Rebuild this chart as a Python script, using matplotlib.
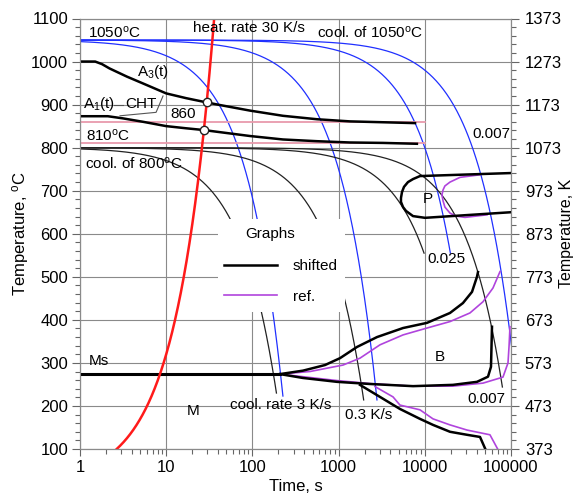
import numpy as np
import matplotlib
matplotlib.use('Agg')
import matplotlib.pyplot as plt
from matplotlib.lines import Line2D
from matplotlib.patches import Rectangle
from matplotlib.ticker import FixedLocator, NullFormatter

plt.rcParams['font.family'] = ['Liberation Sans', 'DejaVu Sans']
plt.rcParams['mathtext.fontset'] = 'custom'
plt.rcParams['mathtext.rm'] = 'Liberation Sans'
plt.rcParams['mathtext.it'] = 'Liberation Sans:italic'
plt.rcParams['font.size'] = 11

# --- values ---
# cooling curves at constant rate, T = T0 - rate * t, drawn down to an end temperature
cool_1050_T0 = 1050
cool_1050_rate = [3.66, 0.3, 0.025, 0.007]
cool_1050_end = [223, 214, 555, 340]
cool_800_T0 = 800
cool_800_rate = [3, 0.3, 0.025, 0.007]
cool_800_end = [230, 214, 555, 244]

# heating 30 K/s from room temperature
heat_T0 = 20
heat_rate = 30

# A3(t), A1(t)
a3_t = [1, 1.5, 1.8, 2.2, 3.5, 5.4, 10, 17, 28, 42, 94, 226, 561, 1355, 3275, 7700]
a3_T = [1000, 1000, 994, 984, 965, 949, 926, 915, 906, 899, 886, 874, 866, 861, 859, 857]
a1_t = [1, 2.1, 3.15, 5.4, 10, 17, 27, 42, 94, 226, 561, 1355, 3275, 8100]
a1_T = [873, 873, 868, 860, 850, 845, 841, 836, 827, 819, 815, 812, 811, 809]

# CHT temperatures
cht_T = [860, 810]
cht_t_end = 10000

# Ms
ms_T = 274
ms_t_end = 209

# pearlite region
p_shift_t = [1e5, 8790, 7300, 6380, 5740, 5440, 5290, 5290, 5590, 6050, 7300, 10050, 1e5]
p_shift_T = [741, 734, 727, 720, 709, 697, 683, 674, 662, 653, 641, 637, 650]
p_ref_t = [43700, 33400, 25600, 19600, 17100, 16300, 15800, 16300, 17100, 19600, 23000, 29300, 52700]
p_ref_T = [737, 734, 731, 720, 711, 702, 690, 676, 662, 648, 641, 638, 644]

# bainite start
bs_shift_t = [209, 386, 695, 1038, 1634, 2790, 5590, 10600, 19600, 27700, 35300, 40300, 41400]
bs_shift_T = [274, 282, 295, 311, 337, 360, 381, 393, 416, 439, 465, 500, 511]
bs_ref_t = [209, 466, 1125, 1770, 3020, 5590, 10600, 19600, 33400, 47300, 61800, 74500]
bs_ref_T = [274, 280, 295, 311, 342, 365, 381, 396, 416, 442, 474, 512]

# bainite lower edge and right side
bf_shift_t = [209, 386, 957, 2313, 7300, 21200, 40300, 54100, 58600, 60200]
bf_shift_T = [274, 265, 256, 251, 246, 249, 256, 268, 291, 384]
bf_ref_t = [209, 957, 2313, 7300, 21200, 47300, 80700, 92300, 95000, 97300]
bf_ref_T = [274, 259, 252, 246, 246, 253, 267, 300, 340, 384]

# lower branch
mf_shift_t = [1770, 3020, 5150, 8790, 12450, 19600, 30900, 43700, 52700]
mf_shift_T = [249, 221, 193, 170, 156, 140, 133, 128, 91]
mf_ref_t = [2645, 4280, 5150, 8790, 12450, 19600, 30900, 57000, 74500]
mf_ref_T = [245, 221, 202, 191, 170, 156, 144, 133, 90]

BLUE = '#2030ff'
PURPLE = '#b044dd'
PINK = '#e89aac'
GRID = '#8a8a8a'

fig = plt.figure(figsize=(5.78, 4.96), dpi=100)
ax = fig.add_axes([80 / 578, 1 - 449 / 496, 431 / 578, 430.5 / 496])
ax.set_xscale('log')
ax.set_xlim(1, 1e5)
ax.set_ylim(100, 1100)

# cooling curves
for T0, rates, ends, col in [(cool_1050_T0, cool_1050_rate, cool_1050_end, BLUE),
                             (cool_800_T0, cool_800_rate, cool_800_end, '#222222')]:
    for r, Te in zip(rates, ends):
        tc = np.logspace(0, np.log10((T0 - Te) / r), 500)
        ax.plot(tc, T0 - r * tc, color=col, lw=0.9, zorder=2)

# CHT lines
for T in cht_T:
    ax.plot([1, cht_t_end], [T, T], color=PINK, lw=1.3, zorder=2)

# transformation lines
ax.plot(a3_t, a3_T, color='black', lw=1.8, zorder=3)
ax.plot(a1_t, a1_T, color='black', lw=1.8, zorder=3)
ax.plot([1, ms_t_end], [ms_T, ms_T], color='black', lw=2.2, zorder=3)
ax.plot(p_ref_t, p_ref_T, color=PURPLE, lw=1.2, zorder=3)
ax.plot(bs_ref_t, bs_ref_T, color=PURPLE, lw=1.2, zorder=3)
ax.plot(bf_ref_t, bf_ref_T, color=PURPLE, lw=1.2, zorder=3)
ax.plot(mf_ref_t, mf_ref_T, color=PURPLE, lw=1.2, zorder=3)
ax.plot(p_shift_t, p_shift_T, color='black', lw=1.8, zorder=3)
ax.plot(bs_shift_t, bs_shift_T, color='black', lw=1.8, zorder=3)
ax.plot(bf_shift_t, bf_shift_T, color='black', lw=1.8, zorder=3)
ax.plot(mf_shift_t, mf_shift_T, color='black', lw=1.8, zorder=3)

# heating curve and its crossings with A3, A1
th = np.linspace((100 - heat_T0) / heat_rate, (1100 - heat_T0) / heat_rate, 2000)
Th = heat_T0 + heat_rate * th
ax.plot(th, Th, color='#ff1a1a', lw=1.8, zorder=4)
for ct, cT in [(a3_t, a3_T), (a1_t, a1_T)]:
    d = Th - np.interp(np.log10(th), np.log10(ct), cT)
    i = np.argmax(d > 0)
    ax.plot(th[i], Th[i], 'o', mfc='white', mec='#222222', ms=6, mew=1, zorder=5)

# CHT leader lines
ax.plot([2.48, 3.15], [899, 899], color='#555555', lw=0.8, zorder=3)
ax.plot([2.91, 7.63, 9.18], [874, 882, 920], color='#555555', lw=0.8, zorder=3)

# labels
texts = [
    (1.24, 1067, '1050$^\\mathrm{o}$C'),
    (20.4, 1079, 'heat. rate 30 K/s'),
    (562, 1067, 'cool. of 1050$^\\mathrm{o}$C'),
    (4.58, 976, 'A$_3$(t)'),
    (1.08, 901, 'A$_1$(t)'),
    (3.33, 901, 'CHT'),
    (11.1, 878, '860'),
    (1.17, 827, '810$^\\mathrm{o}$C'),
    (1.14, 762, 'cool. of 800$^\\mathrm{o}$C'),
    (9570, 681, 'P'),
    (10580, 541, '0.025'),
    (35300, 832, '0.007'),
    (30800, 216, '0.007'),
    (1.27, 304, 'Ms'),
    (17.5, 188, 'M'),
    (13170, 314, 'B'),
    (55, 202, 'cool. rate 3 K/s'),
    (1196, 179, '0.3 K/s'),
]
for x, y, s in texts:
    ax.text(x, y, s, ha='left', va='center', fontsize=11, zorder=6)

# legend box covering the curves behind it
x0, x1 = (218 - 80) / 431, (345 - 80) / 431
y0, y1 = (449 - 312) / 430.5, (449 - 219) / 430.5
ax.add_patch(Rectangle((x0, y0), x1 - x0, y1 - y0, transform=ax.transAxes,
                       facecolor='white', edgecolor='none', zorder=7))
ax.text((270 - 80) / 431, (449 - 234) / 430.5, 'Graphs', transform=ax.transAxes,
        ha='center', va='center', fontsize=11, zorder=8)
handles = [Line2D([], [], color='black', lw=1.8), Line2D([], [], color=PURPLE, lw=1.2)]
leg = ax.legend(handles, ['shifted', 'ref.'], loc='upper left',
                bbox_to_anchor=((224 - 80) / 431, (449 - 259) / 430.5),
                frameon=False, borderpad=0, borderaxespad=0, handlelength=3.46,
                handletextpad=1.05, labelspacing=1.1, fontsize=11)
leg.set_zorder(8)

# axes styling
ax.grid(True, which='major', color=GRID, lw=0.8)
ax.set_axisbelow(True)
for sp in ax.spines.values():
    sp.set_color(GRID)
ax.set_xticks([1, 10, 100, 1000, 10000, 100000])
ax.set_xticklabels(['1', '10', '100', '1000', '10000', '100000'])
ax.xaxis.set_minor_formatter(NullFormatter())
ax.set_yticks(range(100, 1101, 100))
ax.yaxis.set_minor_locator(FixedLocator(range(100, 1101, 20)))
ax.tick_params(axis='y', which='major', direction='out', length=6, width=0.8, color='#666666', pad=2.5, labelsize=12)
ax.tick_params(axis='x', which='major', direction='out', length=5, width=0.8, color='#666666', pad=3, labelsize=12)
ax.tick_params(which='minor', direction='out', length=3.5, width=0.8, color='#666666')
ax.set_xlabel('Time, s', fontsize=12, labelpad=3)
ax.set_ylabel('Temperature, $^\\mathrm{o}$C', fontsize=12)
ax.yaxis.set_label_coords((31 - 80) / 431, 0.5)

ax2 = ax.twinx()
ax2.set_ylim(373, 1373)
ax2.set_yticks(range(373, 1374, 100))
ax2.yaxis.set_minor_locator(FixedLocator(range(373, 1374, 20)))
ax2.tick_params(which='major', direction='out', length=6, width=0.8, color='#666666', pad=4, labelsize=12)
ax2.tick_params(which='minor', direction='out', length=3.5, width=0.8, color='#666666')
for sp in ax2.spines.values():
    sp.set_color(GRID)
ax2.set_ylabel('Temperature, K', fontsize=11.5)
ax2.yaxis.set_label_coords((559 - 80) / 431, 0.5)

fig.savefig('out.png', dpi=100)
